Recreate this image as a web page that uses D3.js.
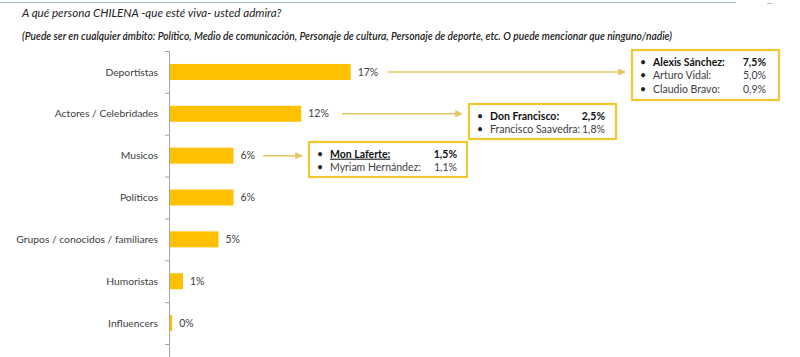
<!DOCTYPE html>
<html><head><meta charset="utf-8">
<script src="https://cdn.jsdelivr.net/npm/d3@7"></script>
<style>
body{margin:0;background:#fff;}
svg{display:block;font-family:Lato,"Open Sans",sans-serif;}
</style></head>
<body>
<svg id="c" width="800" height="357"></svg>
<script>
const titleText = "A qué persona CHILENA -que esté viva- usted admira?";
const subtitleText = "(Puede ser en cualquier ámbito: Político, Medio de comunicación, Personaje de cultura, Personaje de deporte, etc.  O puede mencionar que ninguno/nadie)";
const categories = ["Deportistas","Actores / Celebridades","Musicos","Políticos","Grupos / conocidos / familiares","Humoristas","Influencers"];
const values = [16.9, 12.3, 6.0, 6.0, 4.6, 1.3, 0.3];

// callouts
const calloutCategories = ["Deportistas","Actores / Celebridades","Musicos"];
const calloutNames = [
  ["Alexis Sánchez:","Arturo Vidal:","Claudio Bravo:"],
  ["Don Francisco:","Francisco Saavedra:"],
  ["Mon Laferte:","Myriam Hernández:"]
];
const calloutValues = [
  ["7,5%","5,0%","0,9%"],
  ["2,5%","1,8%"],
  ["1,5%","1,1%"]
];

const svg = d3.select("#c");
const gold = "#FFC000";
const textCol = "#404040";

// top rule
svg.append("line").attr("x1",0).attr("x2",736).attr("y1",2.5).attr("y2",2.5)
  .attr("stroke","#9db3c8").attr("stroke-width",1.2);
svg.append("line").attr("x1",767).attr("x2",772).attr("y1",3.5).attr("y2",3.5)
  .attr("stroke","#bbb").attr("stroke-width",1);

svg.append("text").attr("x",22).attr("y",17).attr("font-style","italic")
  .attr("font-size",11.6).attr("fill","#222").text(titleText);
svg.append("text").attr("x",22).attr("y",40).attr("font-style","italic")
  .attr("font-size",10.8).attr("font-weight",600).attr("fill","#222")
  .attr("textLength",650).attr("lengthAdjust","spacingAndGlyphs").text(subtitleText);

const x = d3.scaleLinear().domain([0,20]).range([169,169+215]);
const y = d3.scaleBand().domain(categories).range([51,344]).paddingInner(0.6).paddingOuter(0.3);

// axis line
svg.append("line").attr("x1",169.5).attr("x2",169.5).attr("y1",51).attr("y2",357)
  .attr("stroke","#a6a6a6").attr("stroke-width",1);
// tick marks at band boundaries
const ticks = d3.range(categories.length+1).map(i => 51 + i*(293/categories.length));
svg.selectAll(".tk").data(ticks).join("line")
  .attr("x1",165).attr("x2",169.5).attr("y1",d=>d+0.5).attr("y2",d=>d+0.5)
  .attr("stroke","#a6a6a6");

// bars
svg.selectAll(".bar").data(categories).join("rect")
  .attr("x",170).attr("y",d=>y(d)+ (y.bandwidth()-16)/2)
  .attr("width",(d,i)=>x(values[i])-170).attr("height",16).attr("fill",gold);

// category labels
svg.selectAll(".cl").data(categories).join("text")
  .attr("x",158).attr("y",d=>y(d)+y.bandwidth()/2).attr("dy","0.35em")
  .attr("text-anchor","end").attr("font-size",10.3).attr("fill",textCol).text(d=>d);

// value labels
const fmt = d3.format(".0f");
svg.selectAll(".vl").data(categories).join("text")
  .attr("x",(d,i)=>x(values[i])+7).attr("y",d=>y(d)+y.bandwidth()/2).attr("dy","0.35em")
  .attr("font-size",10.5).attr("fill",textCol).text((d,i)=>fmt(values[i])+"%");

// callout boxes
const boxes = [
  {x:632,y:50,w:147,h:50,valX:766,arrowFrom:388},
  {x:469,y:104,w:147,h:35,valX:605,arrowFrom:342},
  {x:309,y:142,w:158,h:35,valX:457,arrowFrom:263}
];
const defs = svg.append("defs");
defs.append("marker").attr("id","ah").attr("viewBox","0 0 10 10").attr("refX",9).attr("refY",5)
  .attr("markerWidth",5).attr("markerHeight",5).attr("orient","auto")
  .append("path").attr("d","M0,0L10,5L0,10z").attr("fill","#e6c460");

calloutCategories.forEach((cat,i)=>{
  const b = boxes[i];
  const cy = y(cat)+y.bandwidth()/2;
  svg.append("line").attr("x1",b.arrowFrom).attr("x2",b.x-7).attr("y1",cy).attr("y2",cy)
    .attr("stroke","#e6c460").attr("stroke-width",1.5).attr("marker-end","url(#ah)");
  svg.append("rect").attr("x",b.x).attr("y",b.y).attr("width",b.w).attr("height",b.h)
    .attr("fill","#fff").attr("stroke","#f0c832").attr("stroke-width",2.2);
  const lineH = 13.5;
  const y0 = b.y + 12;
  calloutNames[i].forEach((nm,j)=>{
    const ty = y0 + j*lineH;
    const bold = j===0;
    svg.append("text").attr("x",b.x+8).attr("y",ty).attr("dy","0.35em").attr("font-size",10.5)
      .attr("fill","#222").text("•");
    const t = svg.append("text").attr("x",b.x+21).attr("y",ty).attr("dy","0.35em").attr("font-size",10.5)
      .attr("font-weight",bold?700:400).attr("fill",bold?"#111":textCol).text(nm);
    if (i===2 && j===0) {
      t.attr("text-decoration","underline");
    }
    svg.append("text").attr("x",b.valX).attr("y",ty).attr("dy","0.35em").attr("font-size",10.5)
      .attr("text-anchor","end").attr("font-weight",bold?700:400).attr("fill",bold?"#111":textCol)
      .text(calloutValues[i][j]);
  });
});
</script>
</body></html>
